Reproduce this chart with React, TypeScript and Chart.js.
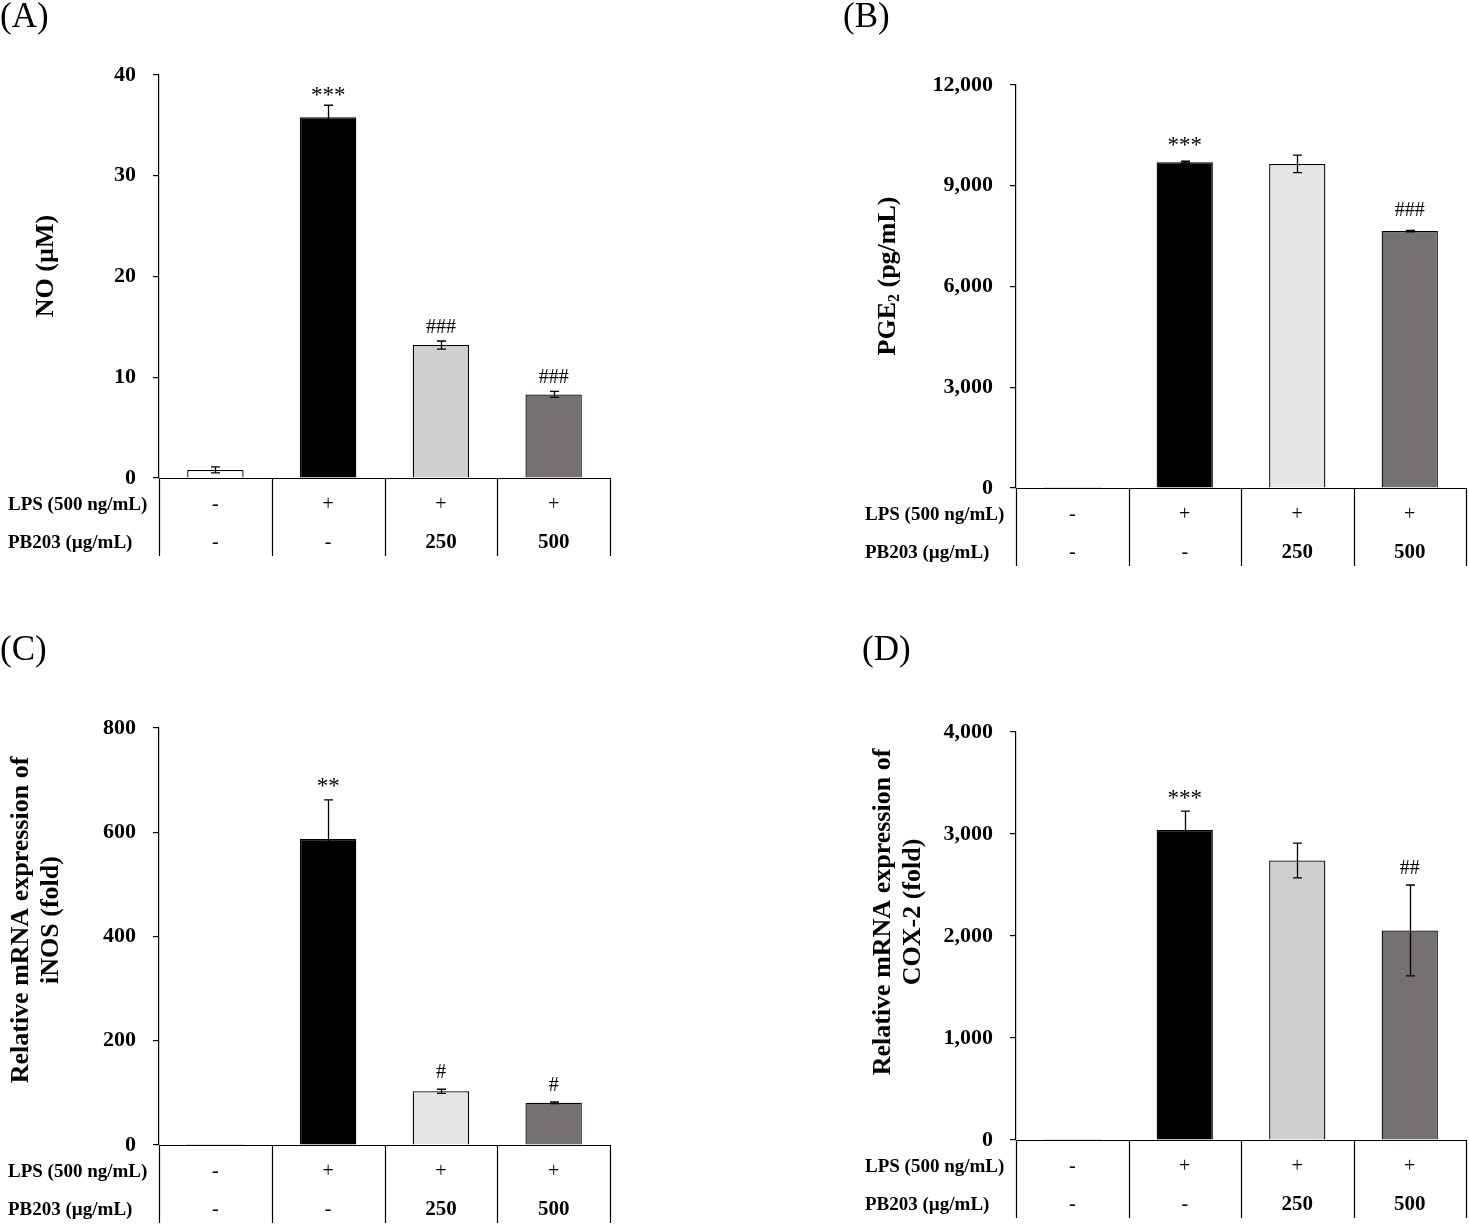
import React, { useEffect, useRef } from 'react';
import { Chart, registerables } from 'chart.js';

Chart.register(...registerables);

// ---------- data ----------
const groups = ['Control', 'LPS', 'LPS + PB203 250', 'LPS + PB203 500'];
const lpsRow = ['-', '+', '+', '+'];
const pb203Row = ['-', '-', '250', '500'];
const rowLabels = ['LPS (500 ng/mL)', 'PB203 (\u00b5g/mL)'];

const noValues = [0.8, 35.8, 13.2, 8.3];
const noErrors = [0.3, 1.2, 0.4, 0.3];
const noMarks = ['', '***', '###', '###'];
const noTicks = [0, 10, 20, 30, 40];

const pgeValues = [30, 9700, 9650, 7650];
const pgeErrors = [0, 30, 260, 20];
const pgeMarks = ['', '***', '', '###'];
const pgeTicks = [0, 3000, 6000, 9000, 12000];

const inosValues = [2, 587, 103, 81];
const inosErrors = [0, 75, 4, 1.5];
const inosMarks = ['', '**', '#', '#'];
const inosTicks = [0, 200, 400, 600, 800];

const coxValues = [10, 3040, 2740, 2055];
const coxErrors = [0, 185, 170, 445];
const coxMarks = ['', '***', '', '##'];
const coxTicks = [0, 1000, 2000, 3000, 4000];

const fillsDark250 = ['#ffffff', '#000000', '#d0cece', '#767171'];
const fillsLight250 = ['#ffffff', '#000000', '#e7e6e6', '#767171'];

// ---------- layout ----------
const SERIF = "'Liberation Serif', 'Times New Roman', serif";

type Seg = { t: string; sub?: boolean };
type Panel = {
  letter: string;
  left: number; top: number; width: number; height: number;
  plotLeft: number; plotRight: number; plotTop: number; plotBottom: number;
  values: number[]; errors: number[]; marks: string[]; ticks: number[];
  fills: string[];
  title: Seg[][];
  titleX: number; titleY: number;
  letterX: number; letterY: number;
  markGap: number;
  comma: boolean;
};

const panels: Panel[] = [
  {
    letter: '(A)', left: 0, top: 0, width: 735, height: 612,
    plotLeft: 159, plotRight: 610, plotTop: 75, plotBottom: 478,
    values: noValues, errors: noErrors, marks: noMarks, ticks: noTicks,
    fills: fillsDark250,
    title: [[{ t: 'NO (\u00b5M)' }]],
    titleX: 46, titleY: 266, letterX: 0, letterY: 0, markGap: 15, comma: false,
  },
  {
    letter: '(B)', left: 735, top: 0, width: 734, height: 612,
    plotLeft: 281, plotRight: 731, plotTop: 85, plotBottom: 488,
    values: pgeValues, errors: pgeErrors, marks: pgeMarks, ticks: pgeTicks,
    fills: fillsLight250,
    title: [[{ t: 'PGE' }, { t: '2', sub: true }, { t: ' (pg/mL)' }]],
    titleX: 153, titleY: 276, letterX: 108, letterY: 0, markGap: 21, comma: true,
  },
  {
    letter: '(C)', left: 0, top: 612, width: 735, height: 613,
    plotLeft: 159, plotRight: 610, plotTop: 116, plotBottom: 533,
    values: inosValues, errors: inosErrors, marks: inosMarks, ticks: inosTicks,
    fills: fillsLight250,
    title: [[{ t: 'Relative mRNA expression of' }], [{ t: 'iNOS (fold)' }]],
    titleX: 36, titleY: 308, letterX: 0, letterY: 21, markGap: 18, comma: false,
  },
  {
    letter: '(D)', left: 735, top: 612, width: 734, height: 613,
    plotLeft: 281, plotRight: 731, plotTop: 120, plotBottom: 528,
    values: coxValues, errors: coxErrors, marks: coxMarks, ticks: coxTicks,
    fills: fillsDark250,
    title: [[{ t: 'Relative mRNA expression of' }], [{ t: 'COX-2 (fold)' }]],
    titleX: 163, titleY: 300, letterX: 127, letterY: 21, markGap: 18, comma: true,
  },
];

function fmt(v: number, comma: boolean) {
  return comma ? v.toLocaleString('en-US') : String(v);
}

function decorPlugin(p: Panel) {
  return {
    id: 'decor' + p.letter,
    afterDatasetsDraw(chart: any) {
      const ctx: CanvasRenderingContext2D = chart.ctx;
      const xs = chart.scales.x;
      const ys = chart.scales.y;
      const area = chart.chartArea;
      const meta = chart.getDatasetMeta(0);
      ctx.save();
      ctx.strokeStyle = '#000';
      ctx.fillStyle = '#000';

      // baseline + table lines
      ctx.lineWidth = 1.2;
      ctx.beginPath();
      ctx.moveTo(area.left, area.bottom + 0.5);
      ctx.lineTo(area.right, area.bottom + 0.5);
      const tableBottom = area.bottom + 78;
      for (let i = 0; i <= p.values.length; i++) {
        const bx = Math.round(xs.getPixelForValue(i - 0.5)) + 0.5;
        ctx.moveTo(bx, area.bottom);
        ctx.lineTo(bx, tableBottom);
      }
      ctx.stroke();

      // error bars
      ctx.lineWidth = 1.3;
      p.values.forEach((v, i) => {
        const e = p.errors[i];
        if (!e) return;
        const bx = Math.round(meta.data[i].x) + 0.5;
        const yt = ys.getPixelForValue(v + e);
        const yb = ys.getPixelForValue(v - e);
        ctx.beginPath();
        ctx.moveTo(bx, yt);
        ctx.lineTo(bx, yb);
        ctx.moveTo(bx - 4.5, yt);
        ctx.lineTo(bx + 4.5, yt);
        ctx.moveTo(bx - 4.5, yb);
        ctx.lineTo(bx + 4.5, yb);
        ctx.stroke();
      });

      // significance marks
      ctx.textAlign = 'center';
      ctx.textBaseline = 'alphabetic';
      p.marks.forEach((m, i) => {
        if (!m) return;
        const bx = meta.data[i].x;
        const yt = ys.getPixelForValue(p.values[i] + p.errors[i]);
        const isStar = m[0] === '*';
        const size = isStar ? 23 : 20;
        ctx.font = `${size}px ${SERIF}`;
        const off = isStar ? 0.5 * size : 0.34 * size;
        ctx.fillText(m, bx, yt - p.markGap + off);
      });

      // table rows
      const rows = [lpsRow, pb203Row];
      const rowY = [area.bottom + 27, area.bottom + 65];
      rows.forEach((row, r) => {
        ctx.textAlign = 'left';
        ctx.textBaseline = 'middle';
        ctx.font = `bold 19px ${SERIF}`;
        ctx.fillText(rowLabels[r], area.left - 151, rowY[r]);
        ctx.textAlign = 'center';
        row.forEach((t, i) => {
          const cx = xs.getPixelForValue(i);
          ctx.font = /\d/.test(t) ? `bold 21px ${SERIF}` : `20px ${SERIF}`;
          ctx.fillText(t, cx, rowY[r]);
        });
      });

      // y-axis title
      ctx.save();
      ctx.translate(p.titleX, p.titleY);
      ctx.rotate(-Math.PI / 2);
      ctx.textBaseline = 'middle';
      ctx.textAlign = 'left';
      const lh = 30;
      const n = p.title.length;
      const mainFont = `bold 26px ${SERIF}`;
      const subFont = `bold 16px ${SERIF}`;
      p.title.forEach((line, li) => {
        const ly = (li - (n - 1) / 2) * lh;
        let total = 0;
        line.forEach((s) => {
          ctx.font = s.sub ? subFont : mainFont;
          total += ctx.measureText(s.t).width;
        });
        let x = -total / 2;
        line.forEach((s) => {
          ctx.font = s.sub ? subFont : mainFont;
          ctx.fillText(s.t, x, ly + (s.sub ? 7 : 0));
          x += ctx.measureText(s.t).width;
        });
      });
      ctx.restore();

      // panel letter
      ctx.textAlign = 'left';
      ctx.textBaseline = 'top';
      ctx.font = `35px ${SERIF}`;
      ctx.fillText(p.letter, p.letterX, p.letterY);

      ctx.restore();
    },
  };
}

function PanelChart({ p }: { p: Panel }) {
  const ref = useRef<HTMLCanvasElement | null>(null);
  useEffect(() => {
    if (!ref.current) return;
    const chart = new Chart(ref.current, {
      type: 'bar',
      data: {
        labels: groups,
        datasets: [
          {
            data: p.values,
            backgroundColor: p.fills,
            borderColor: '#000',
            borderWidth: 1.3,
            categoryPercentage: 1,
            barPercentage: 0.5,
          },
        ],
      },
      options: {
        responsive: false,
        maintainAspectRatio: false,
        animation: false,
        events: [],
        layout: {
          padding: {
            left: 0,
            top: p.plotTop,
            right: p.width - p.plotRight,
            bottom: p.height - p.plotBottom,
          },
        },
        plugins: { legend: { display: false }, tooltip: { enabled: false } },
        scales: {
          x: { display: false, offset: true },
          y: {
            min: p.ticks[0],
            max: p.ticks[p.ticks.length - 1],
            afterBuildTicks: (s: any) => {
              s.ticks = p.ticks.map((v) => ({ value: v }));
            },
            afterFit: (s: any) => {
              s.width = p.plotLeft;
            },
            ticks: {
              color: '#000',
              padding: 17,
              font: { family: SERIF, size: 22, weight: 'bold' },
              callback: (v: any) => fmt(Number(v), p.comma),
            },
            grid: {
              drawOnChartArea: false,
              drawTicks: true,
              tickLength: 6,
              color: '#000',
              lineWidth: 1.2,
            },
            border: { display: true, color: '#000', width: 1.2 },
          },
        },
      } as any,
      plugins: [decorPlugin(p)],
    });
    return () => chart.destroy();
  }, [p]);
  return (
    <canvas
      ref={ref}
      width={p.width}
      height={p.height}
      style={{ position: 'absolute', left: p.left, top: p.top, width: p.width, height: p.height }}
    />
  );
}

export default function App() {
  return (
    <div style={{ position: 'absolute', left: 0, top: 0, width: 1469, height: 1225, background: '#fff' }}>
      {panels.map((p) => (
        <PanelChart key={p.letter} p={p} />
      ))}
    </div>
  );
}
